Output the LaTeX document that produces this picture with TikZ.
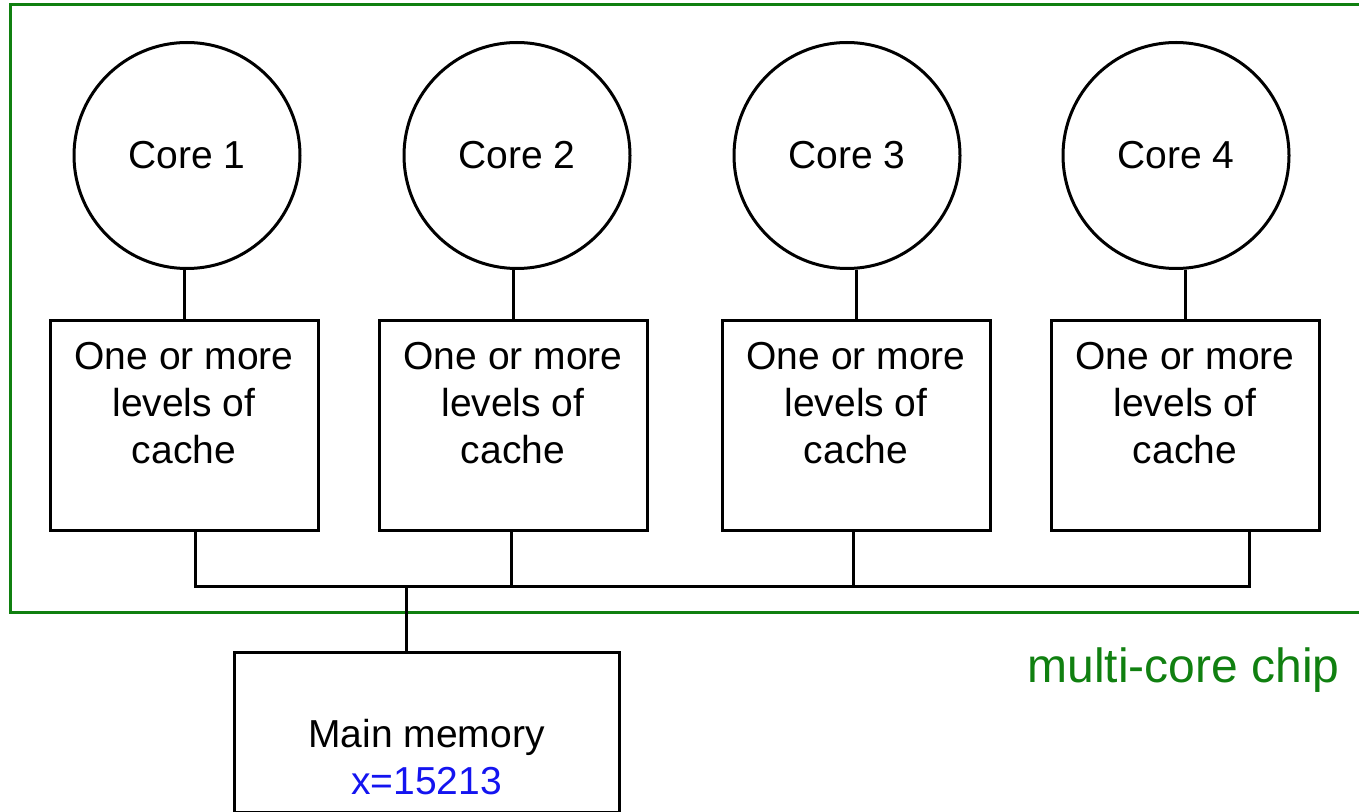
\documentclass[tikz,border=0pt]{standalone}
\usepackage{fontspec}
\setmainfont{Liberation Sans}
\definecolor{chipgreen}{RGB}{16,128,16}
\definecolor{memblue}{RGB}{20,20,240}

\tikzset{
	core/.style={draw, circle, line width=1.5pt, minimum size=113pt, inner sep=0pt, font=\fontsize{19.5}{23.5}\selectfont},
	cachebox/.style={draw, line width=1.5pt, minimum width=134pt, minimum height=104.5pt, inner sep=0pt},
	membox/.style={draw, line width=1.5pt, minimum width=192.5pt, minimum height=80pt, inner sep=0pt},
	boxtext/.style={anchor=north, inner sep=0pt, align=center, font=\fontsize{19.5}{23.5}\selectfont},
	wire/.style={line width=1.5pt},
	chip/.style={draw=chipgreen, line width=1.5pt}
}

\begin{document}
\begin{tikzpicture}[x=0.5pt, y=-0.5pt]
	\useasboundingbox (0,0) rectangle (1359,812);
	
	\draw[chip] (1365,5) -| (10,612) -- (1365,612);
	\node[anchor=base east, inner sep=0pt, text=chipgreen, font=\fontsize{24}{28}\selectfont] (chiplabel) at (1340,682) {multi-core chip};
	
	\node[core] (c1) at (187,155.5) {Core 1};
	\node[core] (c2) at (517,155.5) {Core 2};
	\node[core] (c3) at (847,155.5) {Core 3};
	\node[core] (c4) at (1176,155.5) {Core 4};
	
	\node[cachebox, label={[boxtext, yshift=-11pt]north:{One or more\\levels of\\cache}}] (b1) at (184,425.5) {};
	\node[cachebox, label={[boxtext, yshift=-11pt]north:{One or more\\levels of\\cache}}] (b2) at (513,425.5) {};
	\node[cachebox, label={[boxtext, yshift=-11pt]north:{One or more\\levels of\\cache}}] (b3) at (856,425.5) {};
	\node[cachebox, label={[boxtext, yshift=-11pt]north:{One or more\\levels of\\cache}}] (b4) at (1185,425.5) {};
	
	\draw[wire] (b1.north) -- (b1.north |- c1.south);
	\draw[wire] (b2.north) -- (b2.north |- c2.south);
	\draw[wire] (b3.north) -- (b3.north |- c3.south);
	\draw[wire] (b4.north) -- (b4.north |- c4.south);
	
	\coordinate (bus1) at (195,586);
	\coordinate (bus2) at (511,586);
	\coordinate (bus3) at (853,586);
	\coordinate (bus4) at (1249,586);
	\coordinate (busm) at (406,586);
	
	\draw[wire] (b1.south -| bus1) -- (bus1) -- (bus4) -- (b4.south -| bus4);
	\draw[wire] (b2.south -| bus2) -- (bus2);
	\draw[wire] (b3.south -| bus3) -- (bus3);
	
	\node[membox, label={[boxtext, yshift=-34pt]north:{Main memory\\\textcolor{memblue}{x=15213}}}] (mem) at (426.5,732) {};
	\draw[wire] (busm) -- (mem.north -| busm);
\end{tikzpicture}
\end{document}
